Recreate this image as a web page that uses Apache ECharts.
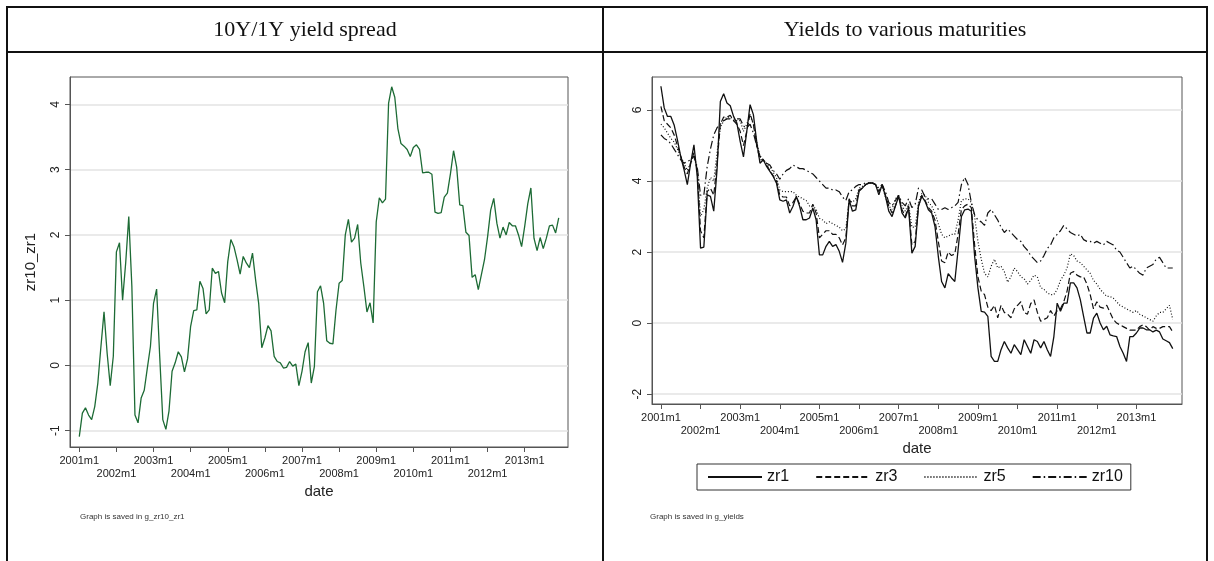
<!DOCTYPE html>
<html>
<head>
<meta charset="utf-8">
<script src="https://cdn.jsdelivr.net/npm/echarts@6/dist/echarts.min.js"></script>
<style>
  html, body { margin: 0; padding: 0; background: #fff; }
  #main { width: 1214px; height: 561px; }
</style>
</head>
<body>
<div id="main"></div>
<script>
// monthly, 2001m1 .. 2013m12 (index 0 .. 155)
let spread = [
  -1.09, -0.73, -0.65, -0.76, -0.83, -0.63, -0.27, 0.29, 0.82, 0.19, -0.31, 0.14,
  1.74, 1.88, 1.0, 1.57, 2.28, 1.21, -0.76, -0.88, -0.5, -0.38, -0.04, 0.29,
  0.95, 1.17, 0.14, -0.83, -0.98, -0.7, -0.09, 0.04, 0.21, 0.13, -0.1, 0.1,
  0.6, 0.84, 0.85, 1.29, 1.18, 0.79, 0.85, 1.49, 1.41, 1.44, 1.11, 0.96,
  1.59, 1.93, 1.82, 1.62, 1.4, 1.67, 1.57, 1.5, 1.72, 1.31, 0.95, 0.27,
  0.42, 0.61, 0.53, 0.14, 0.06, 0.04, -0.04, -0.03, 0.06, -0.01, 0.02, -0.31,
  -0.09, 0.21, 0.35, -0.27, -0.02, 1.13, 1.22, 0.95, 0.38, 0.34, 0.33, 0.85,
  1.26, 1.3, 2.0, 2.24, 1.89, 1.95, 2.16, 1.57, 1.21, 0.82, 0.96, 0.65,
  2.2, 2.57, 2.49, 2.55, 4.02, 4.27, 4.11, 3.63, 3.4, 3.36, 3.31, 3.2,
  3.34, 3.38, 3.31, 2.95, 2.96, 2.96, 2.93, 2.35, 2.33, 2.34, 2.58, 2.64,
  2.94, 3.29, 3.04, 2.46, 2.45, 2.04, 1.99, 1.35, 1.39, 1.16, 1.39, 1.62,
  1.97, 2.38, 2.56, 2.18, 1.95, 2.12, 2.0, 2.19, 2.14, 2.14, 2.0, 1.82,
  2.13, 2.48, 2.72, 1.95, 1.76, 1.96, 1.79, 1.95, 2.14, 2.15, 2.03, 2.26
];

let zr1 = [
  6.67, 6.06, 5.82, 5.82, 5.58, 5.16, 4.69, 4.32, 3.9, 4.5, 5.02, 4.13,
  2.11, 2.14, 3.61, 3.57, 3.15, 4.32, 6.24, 6.46, 6.2, 6.12, 5.82, 5.63,
  5.12, 4.68, 5.4, 6.15, 5.87, 5.12, 4.5, 4.6, 4.41, 4.27, 4.13, 3.94,
  3.47, 3.43, 3.47, 3.1, 3.29, 3.57, 3.29, 2.91, 2.91, 2.96, 3.24, 2.91,
  1.92, 1.92, 2.16, 2.3, 2.16, 2.21, 2.02, 1.71, 2.25, 3.47, 3.15, 3.19,
  3.71, 3.8, 3.9, 3.94, 3.94, 3.9, 3.61, 3.9, 3.57, 3.15, 3.0, 3.29,
  3.57, 3.1, 2.96, 3.24, 1.97, 2.16, 3.29, 3.57, 3.43, 3.19, 3.1, 2.72,
  1.88, 1.17, 0.99, 1.39, 1.27, 1.17, 2.07, 3.0, 3.19, 3.21, 3.15, 1.88,
  0.99, 0.33, 0.31, 0.19, -0.94, -1.08, -1.08, -0.75, -0.52, -0.7, -0.85, -0.61,
  -0.75, -0.89, -0.47, -0.66, -0.85, -0.47, -0.52, -0.7, -0.52, -0.75, -0.94, -0.38,
  0.56, 0.33, 0.56, 0.56, 1.13, 1.13, 0.99, 0.66, 0.19, -0.28, -0.28, 0.14,
  0.28, 0.0, -0.19, -0.09, -0.33, -0.36, -0.38, -0.66, -0.85, -1.08, -0.38, -0.38,
  -0.28, -0.14, -0.14, -0.19, -0.19, -0.25, -0.2, -0.25, -0.45, -0.5, -0.55, -0.72
];

let zr3 = [
  6.1, 5.7, 5.6, 5.5, 5.3, 5.0, 4.7, 4.4, 4.2, 4.5, 4.8, 4.3,
  2.6, 2.4, 3.7, 3.8, 3.6, 4.5, 5.6, 5.8, 5.8, 5.85, 5.7, 5.6,
  5.4, 5.0, 5.4, 5.9, 5.6, 5.0, 4.6, 4.6, 4.45, 4.3, 4.15, 4.0,
  3.6, 3.55, 3.55, 3.3, 3.4, 3.55, 3.35, 3.15, 3.1, 3.1, 3.35, 3.1,
  2.4, 2.5, 2.6, 2.6, 2.5, 2.5, 2.4, 2.2, 2.4, 3.5, 3.3, 3.3,
  3.75, 3.8, 3.9, 3.95, 3.95, 3.9, 3.7, 3.9, 3.6, 3.3, 3.1, 3.3,
  3.6, 3.2, 3.0, 3.3, 2.2, 2.3, 3.3, 3.6, 3.45, 3.25, 3.15, 2.9,
  2.3, 1.75, 1.7, 2.0, 1.9, 1.95, 2.5, 3.2, 3.3, 3.35, 3.25, 2.2,
  1.3, 0.9, 0.8, 0.45, 0.35, 0.5, 0.15, 0.5, 0.3, 0.25, 0.15, 0.4,
  0.5, 0.6, 0.3, 0.25, 0.55, 0.65, 0.3, 0.05, 0.1, 0.15, 0.35, 0.2,
  0.35, 0.4, 0.6, 0.9, 1.4, 1.45, 1.35, 1.3, 1.3, 1.1, 0.8, 0.4,
  0.6, 0.45, 0.42, 0.5, 0.3, 0.1, 0.0, -0.05, -0.1, -0.15, -0.2, -0.2,
  -0.2, -0.1, -0.05, -0.1, -0.2, -0.1, -0.15, -0.15, -0.1, -0.1, -0.1, -0.25
];

let zr5 = [
  5.6, 5.5, 5.35, 5.2, 5.1, 4.9, 4.7, 4.5, 4.3, 4.5, 4.7, 4.35,
  3.0, 3.2, 3.8, 4.1, 4.0, 4.8, 5.5, 5.7, 5.8, 5.8, 5.75, 5.7,
  5.7, 5.4, 5.6, 5.85, 5.6, 5.1, 4.7, 4.6, 4.5, 4.4, 4.25, 4.1,
  3.75, 3.7, 3.7, 3.7, 3.7, 3.6, 3.55, 3.5, 3.45, 3.3, 3.3, 3.2,
  2.95, 2.9, 2.8, 2.85, 2.8, 2.75, 2.7, 2.6, 2.65, 3.45, 3.4, 3.5,
  3.8, 3.85, 3.9, 3.95, 3.95, 3.9, 3.75, 3.85, 3.55, 3.3, 3.2, 3.5,
  3.6, 3.3, 3.15, 3.35, 2.7, 2.7, 3.4, 3.65, 3.6, 3.4, 3.3, 3.1,
  2.8, 2.5, 2.4, 2.45, 2.5, 2.5, 2.9, 3.45, 3.5, 3.5, 3.4, 3.0,
  2.3, 1.8, 1.4, 1.3, 1.6, 1.8, 1.55, 1.6, 1.45, 1.15, 1.3, 1.55,
  1.45, 1.3, 1.25, 1.1, 1.2, 1.35, 1.3, 1.0, 0.95, 0.85, 0.8, 0.8,
  0.95, 1.2, 1.35, 1.55, 1.95, 1.9, 1.75, 1.7, 1.6, 1.5, 1.4, 1.2,
  1.1, 0.95, 0.85, 0.75, 0.75, 0.7, 0.6, 0.5, 0.45, 0.4, 0.35, 0.3,
  0.35, 0.25, 0.2, 0.15, 0.1, 0.05, 0.2, 0.3, 0.3, 0.4, 0.5, 0.1
];

let zr10 = [
  5.3, 5.2, 5.15, 5.05, 4.9, 4.75, 4.6, 4.5, 4.55, 4.6, 4.7, 4.4,
  3.6, 3.6, 4.4, 4.9, 5.3, 5.5, 5.6, 5.7, 5.75, 5.75, 5.7, 5.75,
  5.75, 5.55, 5.5, 5.6, 5.35, 5.0, 4.7, 4.6, 4.5, 4.45, 4.3, 4.2,
  4.05, 4.2, 4.3, 4.35, 4.45, 4.4, 4.35, 4.35, 4.3, 4.25, 4.2, 4.1,
  4.0, 3.9, 3.8, 3.8, 3.75, 3.75, 3.7, 3.55, 3.45, 3.7, 3.75, 3.85,
  3.9, 3.9, 3.95, 3.95, 3.95, 3.9, 3.8, 3.9, 3.7, 3.4, 3.3, 3.45,
  3.6, 3.4, 3.3, 3.5, 3.25, 3.35, 3.8, 3.75, 3.55, 3.5, 3.5, 3.35,
  3.2, 3.2, 3.25, 3.2, 3.25, 3.3, 3.4, 3.9, 4.1, 3.9, 3.4, 3.05,
  2.9, 2.85, 2.75, 3.1, 3.2, 3.05, 2.9, 2.7, 2.55, 2.65, 2.55, 2.45,
  2.35, 2.3, 2.15, 2.05, 1.9, 1.8, 1.7, 1.75, 1.9, 2.1, 2.2, 2.4,
  2.5, 2.6, 2.75, 2.65, 2.55, 2.5, 2.45, 2.5, 2.35, 2.3, 2.3, 2.25,
  2.3, 2.25, 2.2, 2.3, 2.25, 2.2, 2.05, 2.0, 1.85, 1.7, 1.55, 1.6,
  1.5, 1.4, 1.35, 1.55, 1.6, 1.65, 1.8, 1.85, 1.7, 1.55, 1.55, 1.55
];

let years = [2001, 2002, 2003, 2004, 2005, 2006, 2007, 2008, 2009, 2010, 2011, 2012, 2013];
let tickMonths = years.map((y, i) => i * 12);
let evenMonths = tickMonths.filter((m, i) => i % 2 === 0);
let oddMonths = tickMonths.filter((m, i) => i % 2 === 1);
let leftTicks = [-1, 0, 1, 2, 3, 4];
let rightTicks = [-2, 0, 2, 4, 6];

let toPairs = (arr) => arr.map((v, i) => [i, v]);

let font = "Liberation Sans, Arial, sans-serif";
let axisColor = "#555";
let monthLabel = (v) => years[Math.round(v / 12)] + "m1";

// main date axis: line, ticks every year, labels on even-index years
function xAxisFor(gridIndex, min, max) {
    return {
        type: "value",
        gridIndex: gridIndex,
        min: min,
        max: max,
        name: "date",
        nameLocation: "middle",
        nameGap: 37,
        nameTextStyle: { fontFamily: font, fontSize: 15, color: "#222" },
        axisLine: { show: true, onZero: false, lineStyle: { color: axisColor } },
        axisTick: { show: true, length: 5, customValues: tickMonths, lineStyle: { color: axisColor } },
        axisLabel: {
            customValues: evenMonths,
            hideOverlap: false,
            fontFamily: font,
            fontSize: 11,
            color: "#222",
            formatter: monthLabel,
        },
        splitLine: { show: false },
    };
}

// second row of labels (odd-index years)
function xAxisOdd(gridIndex, min, max) {
    return {
        type: "value",
        gridIndex: gridIndex,
        position: "bottom",
        min: min,
        max: max,
        axisLine: { show: false, onZero: false },
        axisTick: { show: false },
        axisLabel: {
            customValues: oddMonths,
            hideOverlap: false,
            margin: 21,
            fontFamily: font,
            fontSize: 11,
            color: "#222",
            formatter: monthLabel,
        },
        splitLine: { show: false },
    };
}

function yAxisFor(gridIndex, min, max, ticks, name) {
    return {
        type: "value",
        gridIndex: gridIndex,
        min: min,
        max: max,
        name: name,
        nameLocation: "middle",
        nameGap: 32,
        nameRotate: 90,
        nameTextStyle: { fontFamily: font, fontSize: 15, color: "#222" },
        axisLine: { show: true, onZero: false, lineStyle: { color: axisColor } },
        axisTick: { show: true, length: 5, customValues: ticks, lineStyle: { color: axisColor } },
        axisLabel: { customValues: ticks, rotate: 90, fontFamily: font, fontSize: 12, color: "#222", margin: 8 },
        splitLine: { show: true, lineStyle: { color: "#e3e3e3", width: 1.5 } },
    };
}

let chart = echarts.init(document.getElementById("main"));

let blackLine = (name, data, type, width) => ({
    name: name,
    type: "line",
    xAxisIndex: 2,
    yAxisIndex: 1,
    data: toPairs(data),
    symbol: "none",
    showSymbol: false,
    itemStyle: { color: "#111" },
    lineStyle: { color: "#111", width: width, type: type },
    animation: false,
});

let option = {
    animation: false,
    backgroundColor: "#fff",
    grid: [
        { left: 70, top: 77, width: 498, height: 370, show: true, borderColor: axisColor, borderWidth: 1 },
        { left: 652, top: 77, width: 530, height: 327, show: true, borderColor: axisColor, borderWidth: 1 },
    ],
    xAxis: [xAxisFor(0, -3, 158), xAxisOdd(0, -3, 158), xAxisFor(1, -2.7, 157.8), xAxisOdd(1, -2.7, 157.8)],
    yAxis: [yAxisFor(0, -1.25, 4.42, leftTicks, "zr10_zr1"), yAxisFor(1, -2.28, 6.93, rightTicks, "")],
    legend: {
        left: 697,
        top: 464,
        padding: [5, 8, 5, 10],
        borderColor: "#333",
        borderWidth: 1,
        itemWidth: 54,
        itemHeight: 12,
        itemGap: 26,
        itemStyle: { opacity: 0 },
        textStyle: { fontFamily: font, fontSize: 16, color: "#111" },
        data: ["zr1", "zr3", "zr5", "zr10"],
    },
    series: [
        {
            name: "spread",
            type: "line",
            xAxisIndex: 0,
            yAxisIndex: 0,
            data: toPairs(spread),
            symbol: "none",
            lineStyle: { color: "#1d6b35", width: 1.3 },
            animation: false,
        },
        blackLine("zr1", zr1, "solid", 1.3),
        blackLine("zr3", zr3, [6, 3], 1.2),
        blackLine("zr5", zr5, [1, 2], 1.2),
        blackLine("zr10", zr10, [8, 3, 1.5, 3], 1.2),
    ],
    graphic: [
        // table frame
        { type: "rect", shape: { x: 7, y: 7, width: 1200, height: 560 }, style: { fill: "none", stroke: "#111", lineWidth: 2 } },
        { type: "line", shape: { x1: 7, y1: 52, x2: 1207, y2: 52 }, style: { stroke: "#111", lineWidth: 2 } },
        { type: "line", shape: { x1: 603, y1: 7, x2: 603, y2: 561 }, style: { stroke: "#111", lineWidth: 2 } },
        { type: "text", style: { text: "10Y/1Y yield spread", x: 305, y: 30, align: "center", verticalAlign: "middle", font: "22px 'Liberation Serif', 'Times New Roman', serif", fill: "#111" } },
        { type: "text", style: { text: "Yields to various maturities", x: 905, y: 30, align: "center", verticalAlign: "middle", font: "22px 'Liberation Serif', 'Times New Roman', serif", fill: "#111" } },
        { type: "text", style: { text: "Graph is saved in g_zr10_zr1", x: 80, y: 513, font: "8px " + font, fill: "#333" } },
        { type: "text", style: { text: "Graph is saved in g_yields", x: 650, y: 513, font: "8px " + font, fill: "#333" } },
    ],
};

chart.setOption(option);
</script>
</body>
</html>
